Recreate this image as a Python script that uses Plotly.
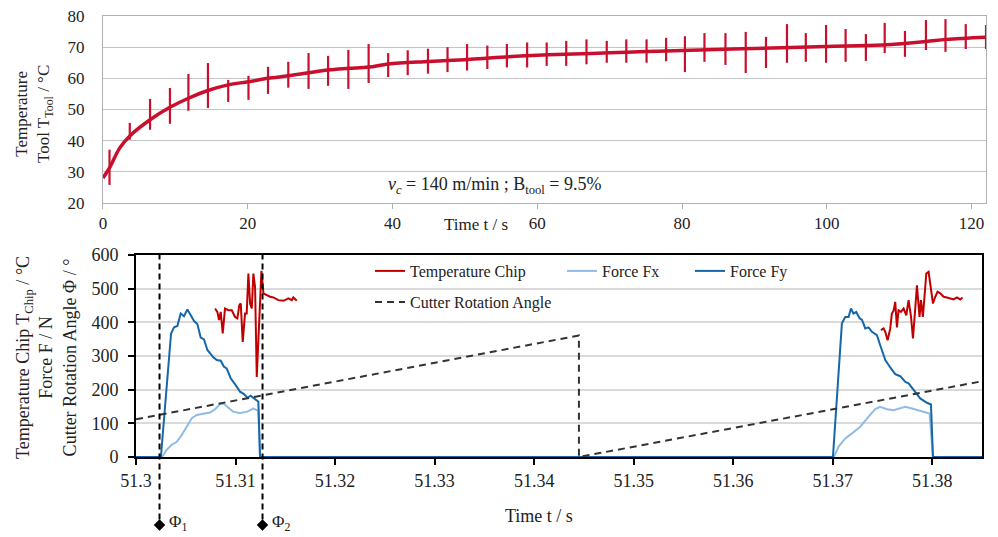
import plotly.graph_objects as go

# ---------------- top chart data ----------------
t_base = [0, 1.0, 2.3, 3.7, 6.5, 9.25, 11.8, 14.5, 17.3, 20.1, 22.8, 25.6, 28.4, 31.1, 33.9,
          36.7, 39.4, 45, 50, 55, 60, 65, 70, 75, 80, 82.5, 90, 99.9, 107.7, 113.7, 116.5, 122]
T_base = [28.0, 31.7, 37.6, 41.5, 46.7, 50.7, 53.6, 56.1, 57.9, 58.9, 60.0, 60.8, 61.8, 62.7, 63.2,
          63.6, 64.6, 65.4, 66.0, 66.8, 67.4, 67.8, 68.2, 68.6, 68.9, 69.1, 69.6, 70.2, 70.7, 71.8, 72.5, 73.2]

spike_t = [0.9, 3.7, 6.5, 9.25, 11.8, 14.5, 17.3, 20.1, 22.8, 25.6, 28.4, 31.1, 33.9, 36.7, 39.4,
           42.1, 44.9, 47.6, 50.3, 53.1, 55.8, 58.6, 61.3, 64.0, 66.8, 69.6, 72.3, 75.1, 77.8, 80.4,
           83.1, 86.0, 88.8, 91.6, 94.5, 97.1, 99.9, 102.6, 105.4, 108.0, 110.8, 113.7, 116.4, 119.2, 122.0]
spike_hi = [37.1, 45.7, 53.4, 56.9, 61.4, 64.9, 59.5, 60.8, 63.7, 65.3, 68.1, 67.2, 69.1, 71.0, 68.1,
            69.0, 69.5, 70.0, 71.0, 70.5, 71.0, 71.5, 71.5, 72.0, 72.5, 72.0, 72.5, 72.5, 73.0, 73.5,
            74.5, 74.5, 74.9, 73.3, 77.4, 74.5, 77.1, 75.8, 74.2, 77.8, 75.2, 78.7, 79.0, 77.4, 77.1]
spike_lo = [25.8, 40.3, 43.5, 45.4, 49.6, 50.5, 52.4, 53.1, 55.0, 57.0, 56.6, 57.6, 56.6, 58.5, 60.4,
            61.0, 61.5, 62.0, 62.5, 63.0, 63.5, 63.5, 64.0, 64.0, 64.5, 65.0, 65.0, 65.0, 65.5, 62.0,
            65.3, 64.3, 61.7, 63.3, 65.0, 65.3, 65.0, 65.3, 65.6, 68.1, 66.9, 69.1, 68.5, 69.4, 69.4]

# ---------------- bottom chart data ----------------
fy_t = [51.3, 51.3025, 51.30352, 51.30382, 51.30415, 51.30449, 51.30482, 51.30516, 51.30550, 51.30583,
        51.30616, 51.30650, 51.30683, 51.30717, 51.30777, 51.30811, 51.30851, 51.30884, 51.30911,
        51.30951, 51.31012, 51.31045, 51.31085, 51.31119, 51.31152, 51.31186, 51.31229, 51.31246,
        51.37002, 51.37092, 51.37126, 51.37159, 51.37183, 51.37209, 51.37236, 51.37270, 51.37294,
        51.37327, 51.37360, 51.37394, 51.37444, 51.37477, 51.37528, 51.37578, 51.37628, 51.37678,
        51.37729, 51.37762, 51.37812, 51.37879, 51.37946, 51.37987, 51.38007, 51.385]
fy_v = [0, 0, 367, 385, 389, 426, 418, 438, 421, 404,
        395, 355, 349, 318, 296, 288, 286, 268, 263,
        234, 209, 194, 187, 176, 182, 174, 164, 0,
        0, 397, 416, 416, 441, 426, 431, 412, 407,
        382, 385, 372, 362, 332, 288, 266, 246, 240,
        223, 219, 199, 174, 161, 156, 0, 0]

fx_t = [51.3, 51.30262, 51.30308, 51.30358, 51.30409, 51.30459, 51.30509, 51.30560, 51.30610, 51.30677,
        51.30744, 51.30794, 51.30844, 51.30878, 51.30928, 51.30978, 51.31045, 51.31112, 51.31179,
        51.31229, 51.31246, 51.37012, 51.37059, 51.37126, 51.37193, 51.37276, 51.37360, 51.37427,
        51.37477, 51.37544, 51.37611, 51.37678, 51.37729, 51.37796, 51.37863, 51.37913, 51.37973,
        51.38007, 51.385]
fx_v = [0, 0, 21, 36, 45, 65, 90, 115, 125, 128,
        132, 142, 157, 159, 147, 134, 131, 134, 144,
        137, 0, 0, 31, 55, 70, 90, 120, 142,
        149, 142, 139, 144, 149, 144, 139, 134, 129,
        0, 0]

tc1_t = [51.30794, 51.30817, 51.30834, 51.30851, 51.30871, 51.30894, 51.30928, 51.30962, 51.30995,
         51.31018, 51.31038, 51.31052, 51.31072, 51.31095, 51.31112, 51.31129, 51.31146, 51.31163,
         51.31179, 51.31196, 51.31213, 51.31236, 51.31260, 51.31280, 51.31313, 51.31347, 51.31380,
         51.31430, 51.31481, 51.31531, 51.31565, 51.31581, 51.31615]
tc1_v = [441, 431, 407, 431, 367, 441, 436, 436, 416,
         412, 451, 456, 342, 426, 426, 545, 456, 441,
         545, 505, 238, 416, 553, 486, 481, 476, 474,
         466, 464, 471, 466, 474, 464]
tc2_t = [51.37484, 51.37511, 51.37528, 51.37551, 51.37578, 51.37594, 51.37611, 51.37628, 51.37645,
         51.37661, 51.37685, 51.37712, 51.37739, 51.37762, 51.37786, 51.37806, 51.37829, 51.37846,
         51.37872, 51.37886, 51.37906, 51.37920, 51.37940, 51.37963, 51.37987, 51.38007, 51.38030,
         51.38053, 51.38080, 51.38114, 51.38147, 51.38181, 51.38214, 51.38248, 51.38281, 51.38304]
tc2_v = [377, 382, 372, 347, 382, 426, 434, 461, 385,
         436, 431, 441, 421, 466, 418, 352, 441, 510,
         416, 466, 416, 471, 545, 550, 505, 456, 476,
         491, 486, 476, 474, 471, 468, 474, 468, 474]

rot_t = [51.3, 51.3445, 51.3445, 51.385]
rot_v = [112, 361, 0, 225]

phi_t = [51.30236, 51.31271]
phi_labels = ["Φ<sub>1</sub>", "Φ<sub>2</sub>"]

x1_ticks = [0, 20, 40, 60, 80, 100, 120]
x2_ticks = [51.30, 51.31, 51.32, 51.33, 51.34, 51.35, 51.36, 51.37, 51.38]
x2_ticktext = ["51.3", "51.31", "51.32", "51.33", "51.34", "51.35", "51.36", "51.37", "51.38"]

FONT = "Liberation Serif"
RED_TOP = "#c8102e"
RED = "#c00000"
FX = "#8fbbe6"
FY = "#1567aa"
TXT = "#222222"

fig = go.Figure()

# top spikes
sx, sy = [], []
for t, lo, hi in zip(spike_t, spike_lo, spike_hi):
    sx += [t, t, None]
    sy += [lo, hi, None]
fig.add_trace(go.Scatter(x=sx, y=sy, mode="lines", line=dict(color=RED_TOP, width=2.2),
                         showlegend=False, xaxis="x", yaxis="y", hoverinfo="skip"))
fig.add_trace(go.Scatter(x=t_base, y=T_base, mode="lines", line=dict(color=RED_TOP, width=3.5),
                         line_shape="spline", showlegend=False, xaxis="x", yaxis="y"))

# bottom
fig.add_trace(go.Scatter(x=fx_t, y=fx_v, mode="lines", line=dict(color=FX, width=2),
                         name="Force Fx", xaxis="x2", yaxis="y2", legend="legend2"))
fig.add_trace(go.Scatter(x=fy_t, y=fy_v, mode="lines", line=dict(color=FY, width=2),
                         name="Force Fy", xaxis="x2", yaxis="y2", legend="legend3"))
fig.add_trace(go.Scatter(x=tc1_t, y=tc1_v, mode="lines", line=dict(color=RED, width=2),
                         name="Temperature Chip", xaxis="x2", yaxis="y2", legend="legend"))
fig.add_trace(go.Scatter(x=tc2_t, y=tc2_v, mode="lines", line=dict(color=RED, width=2),
                         name="Temperature Chip", showlegend=False, xaxis="x2", yaxis="y2"))
fig.add_trace(go.Scatter(x=rot_t, y=rot_v, mode="lines", line=dict(color="#333333", width=2, dash="7px,5px"),
                         name="Cutter Rotation Angle", xaxis="x2", yaxis="y2", legend="legend4"))

PHI_Y = 1 - 525 / 537
shapes = []
annotations = []
for p, lab in zip(phi_t, phi_labels):
    shapes.append(dict(type="line", xref="x2", yref="y2 domain", x0=p, x1=p, y0=-0.31, y1=1,
                       line=dict(color="black", width=2, dash="6px,4px"), layer="above"))
    shapes.append(dict(type="path", xref="x2", yref="paper", xsizemode="pixel", ysizemode="pixel",
                       xanchor=p, yanchor=PHI_Y, path="M0,5.5 L5.5,0 L0,-5.5 L-5.5,0 Z",
                       fillcolor="black", line=dict(color="black", width=0.5), layer="above"))
    annotations.append(dict(text=lab, x=p, xref="x2", y=PHI_Y, yref="paper", xanchor="left",
                            yanchor="middle", xshift=7, yshift=2, showarrow=False,
                            font=dict(family=FONT, size=17, color=TXT)))

leg_common = dict(orientation="h", bgcolor="rgba(0,0,0,0)", borderwidth=0,
                  font=dict(family=FONT, size=16, color=TXT), xanchor="left", yanchor="middle")

ann_common = dict(xref="paper", yref="paper", showarrow=False, xanchor="center", yanchor="middle")

annotations += [
    dict(text="Temperature<br>Tool T<sub>Tool</sub> / °C", textangle=-90, x=34 / 998, y=1 - 114 / 537,
         font=dict(family=FONT, size=17, color=TXT), **ann_common),
    dict(text="Temperature Chip T<sub>Chip</sub> / °C<br>Force F / N<br>Cutter Rotation Angle Φ / °",
         textangle=-90, x=46 / 998, y=1 - 358 / 537,
         font=dict(family=FONT, size=18, color=TXT), **ann_common),
    dict(text="Time t / s", x=476 / 998, y=1 - 224 / 537,
         font=dict(family=FONT, size=17, color=TXT), **ann_common),
    dict(text="Time t / s", x=539 / 998, y=1 - 516 / 537,
         font=dict(family=FONT, size=18, color=TXT), **ann_common),
    dict(text="<i>v</i><sub><i>c</i></sub> = 140 m/min ; B<sub>tool</sub> = 9.5%", x=495 / 998,
         y=1 - 185 / 537, font=dict(family=FONT, size=18, color=TXT), **ann_common),
]

fig.update_layout(
    width=998, height=537, margin=dict(l=0, r=0, t=0, b=0, pad=0, autoexpand=False),
    font=dict(family=FONT, size=16, color=TXT),
    paper_bgcolor="white", plot_bgcolor="white",
    xaxis=dict(domain=[0.1032, 0.988], range=[0, 122], tickvals=x1_ticks,
               ticks="outside", ticklen=5, tickcolor="#b0b0b0", showline=True, linecolor="#b0b0b0",
               mirror=True, showgrid=False, zeroline=False, anchor="y", automargin=False,
               tickfont=dict(family=FONT, size=17, color=TXT)),
    yaxis=dict(domain=[0.622, 0.9702], range=[20, 80], dtick=10, gridcolor="#c4c4c4",
               showline=True, linecolor="#b0b0b0", mirror=True, zeroline=False, ticks="",
               ticklabelstandoff=14, anchor="x", automargin=False,
               tickfont=dict(family=FONT, size=17, color=TXT)),
    xaxis2=dict(domain=[0.1363, 0.984], range=[51.3, 51.385], tickvals=x2_ticks, ticktext=x2_ticktext,
                ticks="outside", ticklen=6, tickwidth=2, tickcolor="black", showline=True,
                linecolor="black", linewidth=2, mirror=True, showgrid=False, zeroline=False,
                anchor="y2", automargin=False, tickfont=dict(family=FONT, size=18, color=TXT)),
    yaxis2=dict(domain=[0.149, 0.5251], range=[0, 600], dtick=100, gridcolor="#dadada", gridwidth=1.5,
                ticks="outside", ticklen=6, tickwidth=2, tickcolor="black", showline=True,
                linecolor="black", linewidth=2, mirror=True, zeroline=False, anchor="x2",
                ticklabelstandoff=6, automargin=False, tickfont=dict(family=FONT, size=18, color=TXT)),
    legend=dict(x=370 / 998, y=1 - 271 / 537, **leg_common),
    legend2=dict(x=562 / 998, y=1 - 271 / 537, **leg_common),
    legend3=dict(x=690 / 998, y=1 - 271 / 537, **leg_common),
    legend4=dict(x=370 / 998, y=1 - 302 / 537, **leg_common),
    shapes=shapes,
    annotations=annotations,
)

fig.write_html("out.html", config={"displayModeBar": False},
               post_script="document.body.style.margin='0px';")
